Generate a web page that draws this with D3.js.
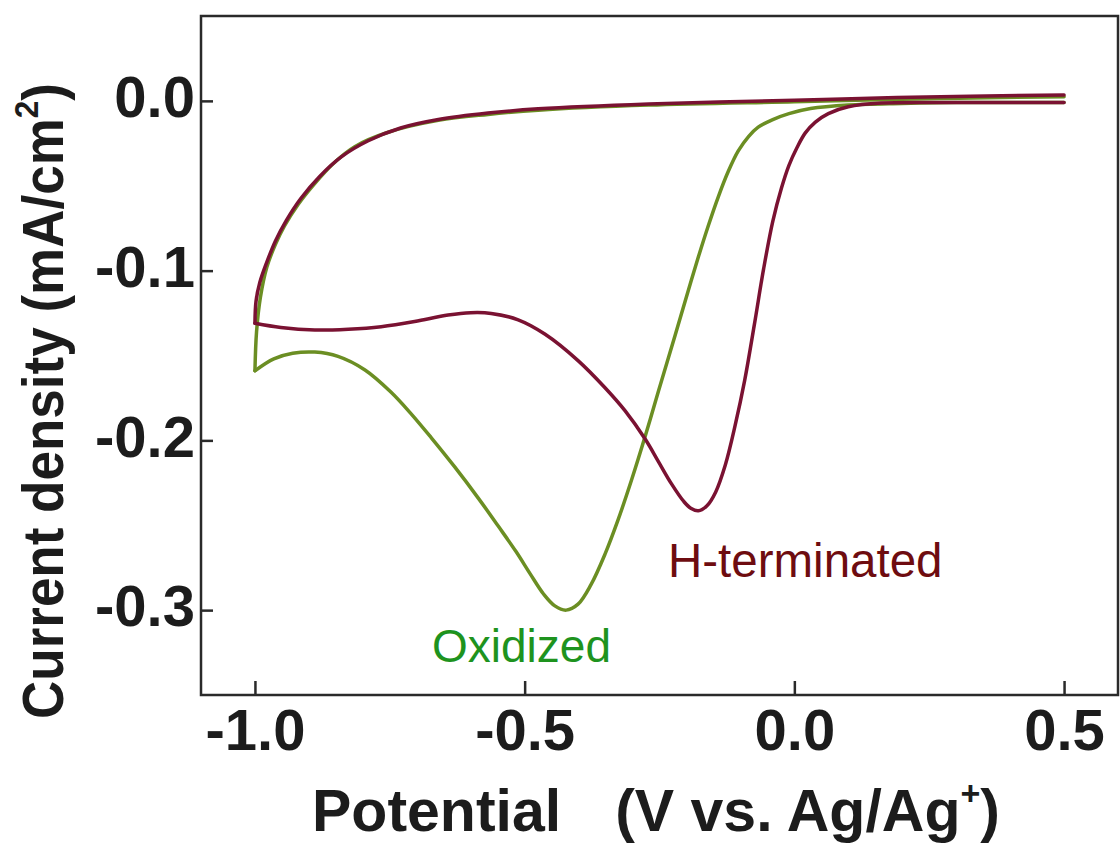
<!DOCTYPE html>
<html>
<head>
<meta charset="utf-8">
<script src="https://cdn.jsdelivr.net/npm/d3@7"></script>
<style>
  html, body { margin: 0; padding: 0; background: #ffffff; }
  svg { display: block; }
  text { font-family: "Liberation Sans", Arial, sans-serif; }
</style>
</head>
<body>
<svg id="chart" width="1120" height="845"></svg>
<script>
// ---- Data (Potential in V vs Ag/Ag+, current density in mA/cm^2) ----
const xTicks = [-1.0, -0.5, 0.0, 0.5];
const yTicks = [0.0, -0.1, -0.2, -0.3];

// Oxidized: cathodic sweep (0.5 -> -1.0)
const oxidizedForward = [
  [0.5,-0.001],[0.3,-0.001],[0.2,-0.0015],[0.1,-0.0024],[0.03,-0.0045],[-0.01,-0.0075],
  [-0.04,-0.011],[-0.067,-0.0155],[-0.085,-0.021],[-0.104,-0.0295],[-0.122,-0.0412],
  [-0.141,-0.0565],[-0.16,-0.074],[-0.178,-0.092],[-0.191,-0.1057],[-0.221,-0.138],
  [-0.252,-0.171],[-0.276,-0.197],[-0.302,-0.2235],[-0.327,-0.247],[-0.351,-0.267],
  [-0.377,-0.285],[-0.401,-0.2965],[-0.423,-0.300],[-0.444,-0.2975],[-0.465,-0.2905],
  [-0.49,-0.2785],[-0.516,-0.2655],[-0.549,-0.2505],[-0.586,-0.234],[-0.63,-0.2155],
  [-0.673,-0.1985],[-0.71,-0.1845],[-0.748,-0.1715],[-0.796,-0.1585],[-0.846,-0.1505],
  [-0.889,-0.148],[-0.93,-0.1487],[-0.965,-0.152],[-1.0,-0.159]
];
// Oxidized: anodic return sweep (-1.0 -> 0.5)
const oxidizedReverse = [
  [-1.0,-0.159],[-0.997,-0.136],[-0.99,-0.116],[-0.978,-0.098],[-0.962,-0.0845],
  [-0.945,-0.0735],[-0.92,-0.061],[-0.89,-0.049],[-0.855,-0.037],[-0.815,-0.027],
  [-0.753,-0.0185],[-0.66,-0.0115],[-0.568,-0.0080],[-0.475,-0.0055],[-0.27,-0.0025],
  [0.0,-0.0005],[0.2,0.001],[0.5,0.0025]
];
// H-terminated: cathodic sweep (0.5 -> -1.0)
const hTermForward = [
  [0.5,-0.001],[0.3,-0.001],[0.161,-0.0013],[0.1,-0.0035],[0.063,-0.0075],[0.039,-0.0125],
  [0.02,-0.019],[0.005,-0.0275],[-0.01,-0.038],[-0.024,-0.0515],[-0.04,-0.071],
  [-0.057,-0.099],[-0.074,-0.1315],[-0.092,-0.1645],[-0.11,-0.1915],[-0.128,-0.2145],
  [-0.146,-0.2305],[-0.162,-0.2385],[-0.178,-0.2415],[-0.192,-0.2400],[-0.205,-0.2360],
  [-0.228,-0.2255],[-0.252,-0.2125],[-0.276,-0.1995],[-0.314,-0.1825],[-0.351,-0.1690],
  [-0.401,-0.1530],[-0.462,-0.1375],[-0.512,-0.1290],[-0.562,-0.1252],[-0.6,-0.1248],
  [-0.642,-0.1262],[-0.704,-0.1300],[-0.766,-0.1330],[-0.827,-0.1345],[-0.889,-0.1350],
  [-0.952,-0.1335],[-1.0,-0.131]
];
// H-terminated: anodic return sweep (-1.0 -> 0.5)
const hTermReverse = [
  [-1.0,-0.131],[-0.998,-0.118],[-0.991,-0.107],[-0.978,-0.095],[-0.962,-0.0825],
  [-0.942,-0.0705],[-0.915,-0.0575],[-0.88,-0.0445],[-0.84,-0.0330],[-0.79,-0.0235],
  [-0.73,-0.0160],[-0.66,-0.0110],[-0.568,-0.0072],[-0.475,-0.0047],[-0.27,-0.0018],
  [0.0,0.0003],[0.19,0.002],[0.5,0.0035]
];

const seriesNames = ["Oxidized", "H-terminated"];
const seriesColors = ["#6b8e23", "#7a1232"];
const labelColors = ["#1e931e", "#6e0c10"];

// ---- Layout ----
const plotLeft = 201, plotRight = 1118, plotTop = 16, plotBottom = 695;
const svg = d3.select("#chart");

const x = d3.scaleLinear().domain([-1.1, 0.6]).range([plotLeft, plotRight]);
const y = d3.scaleLinear().domain([-0.35, 0.05]).range([plotBottom, plotTop]);

const fmt = d => d.toFixed(1);
const axisColor = "#2a2a2a";

// X axis
const gx = svg.append("g").attr("transform", `translate(0,${plotBottom})`)
  .call(d3.axisBottom(x).tickValues(xTicks).tickFormat(fmt).tickSizeInner(-14).tickSizeOuter(0).tickPadding(14));
gx.select(".domain").remove();
gx.selectAll(".tick line").attr("stroke", axisColor).attr("stroke-width", 2.5);
gx.selectAll(".tick text").attr("fill", "#1c1c1c").attr("font-size", 58).attr("font-weight", "bold")
  .attr("font-family", "'Liberation Sans', Arial, sans-serif");

// Y axis
const gy = svg.append("g").attr("transform", `translate(${plotLeft},0)`)
  .call(d3.axisLeft(y).tickValues(yTicks).tickFormat(fmt).tickSizeInner(-12).tickSizeOuter(0).tickPadding(6));
gy.select(".domain").remove();
gy.selectAll(".tick line").attr("stroke", axisColor).attr("stroke-width", 2.5);
gy.selectAll(".tick text").attr("fill", "#1c1c1c").attr("font-size", 58).attr("font-weight", "bold")
  .attr("font-family", "'Liberation Sans', Arial, sans-serif").attr("dy", "0.27em");

// Frame
svg.append("rect").attr("x", plotLeft).attr("y", plotTop).attr("width", plotRight - plotLeft).attr("height", plotBottom - plotTop)
  .attr("fill", "none").attr("stroke", axisColor).attr("stroke-width", 2.5);

// Curves
const line = d3.line().x(d => x(d[0])).y(d => y(d[1])).curve(d3.curveCatmullRom.alpha(0.5));
const branches = [
  [oxidizedForward, 0], [oxidizedReverse, 0],
  [hTermForward, 1], [hTermReverse, 1]
];
svg.append("g").selectAll("path").data(branches).join("path")
  .attr("d", b => line(b[0]))
  .attr("fill", "none")
  .attr("stroke", b => seriesColors[b[1]])
  .attr("stroke-width", 3.5)
  .attr("stroke-linejoin", "round")
  .attr("stroke-linecap", "round");

// Series labels
svg.append("text").attr("x", 432).attr("y", 662).attr("font-size", 46)
  .attr("fill", labelColors[0]).text(seriesNames[0]);
svg.append("text").attr("x", 668).attr("y", 577).attr("font-size", 47.5)
  .attr("fill", labelColors[1]).text(seriesNames[1]);

// X axis title
const xt = svg.append("text").attr("x", 312).attr("y", 831).attr("font-size", 59)
  .attr("font-weight", "bold").attr("fill", "#1c1c1c");
xt.append("tspan").text("Potential");
xt.append("tspan").attr("dx", 54).text("(V vs. Ag/Ag");
xt.append("tspan").attr("font-size", 34).attr("dy", -26).text("+");
xt.append("tspan").attr("dy", 26).text(")");

// Y axis title
const yt = svg.append("text").attr("transform", "translate(63,401) rotate(-90) scale(0.93,1)")
  .attr("text-anchor", "middle").attr("font-size", 57).attr("font-weight", "bold").attr("fill", "#1c1c1c");
yt.append("tspan").text("Current density (mA/cm");
yt.append("tspan").attr("font-size", 34).attr("dy", -25).text("2");
yt.append("tspan").attr("dy", 25).text(")");
</script>
</body>
</html>
